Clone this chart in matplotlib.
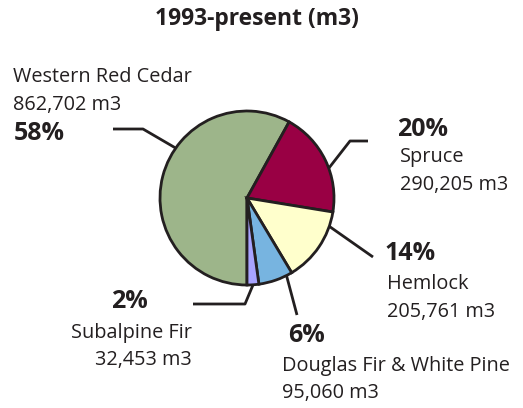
import numpy as np
import matplotlib
matplotlib.use('Agg')
import matplotlib.pyplot as plt

# dane
species = ['Western Red Cedar', 'Spruce', 'Hemlock',
           'Douglas Fir & White Pine', 'Subalpine Fir']
volumes = [862702, 290205, 205761, 95060, 32453]
percent_labels = ['58%', '20%', '14%', '6%', '2%']
volume_labels = ['862,702 m3', '290,205 m3', '205,761 m3', '95,060 m3',
                 '32,453 m3']
colors = ['#9db58a', '#990044', '#ffffcc', '#77b4e0', '#a8a4ff']
title = '1993-present (m3)'

W, H = 523, 408
plt.rcParams['font.family'] = ['Open Sans', 'DejaVu Sans']
ink = '#231f20'

fig = plt.figure(figsize=(W / 100, H / 100), dpi=100)
ax = fig.add_axes([0, 0, 1, 1])

cx, cy, r = 247, H - 198, 87
ax.pie(volumes, colors=colors, startangle=270, counterclock=False,
       center=(cx, cy), radius=r, frame=True,
       wedgeprops=dict(edgecolor=ink, linewidth=2))
ax.set_xlim(0, W)
ax.set_ylim(0, H)
ax.set_aspect('equal')
ax.axis('off')


def edge(angle):
    a = np.deg2rad(angle)
    return cx + r * np.cos(a), cy + r * np.sin(a)


# linie odniesienia: kat na obwodzie + punkty w pikselach
leaders = [
    (145, [(143, 129), (113, 129)]),
    (20, [(350, 141), (368, 141)]),
    (-19, [(373, 257)]),
    (-63, [(297, 315)]),
    (-86, [(245, 304), (193, 304)]),
]
for ang, pts in leaders:
    x0, y0 = edge(ang)
    xs = [x0] + [p[0] for p in pts]
    ys = [y0] + [H - p[1] for p in pts]
    ax.plot(xs, ys, color=ink, lw=2, solid_capstyle='butt')

fig.text(257 / W, 1 - 19 / H, title, ha='center', va='center',
         fontsize=16.5, fontweight='bold', color=ink)


def txt(x, y, s, bold=False, ha='left'):
    ax.text(x, H - y, s, ha=ha, va='center', color=ink,
            fontsize=18 if bold else 14.3,
            fontweight='bold' if bold else 'normal')


# Western Red Cedar
txt(13, 77, species[0])
txt(13, 105, volume_labels[0])
txt(14, 133, percent_labels[0], bold=True)
# Spruce
txt(397, 130, percent_labels[1], bold=True)
txt(400, 157, species[1])
txt(400, 185, volume_labels[1])
# Hemlock
txt(385, 254, percent_labels[2], bold=True)
txt(387, 284, species[2])
txt(387, 312, volume_labels[2])
# Douglas Fir
txt(288, 336, percent_labels[3], bold=True)
txt(282, 366, species[3])
txt(282, 393, volume_labels[3])
# Subalpine Fir
txt(111, 301, percent_labels[4], bold=True)
txt(192, 333, species[4], ha='right')
txt(192, 360, volume_labels[4], ha='right')

fig.savefig('out.png', dpi=100)
